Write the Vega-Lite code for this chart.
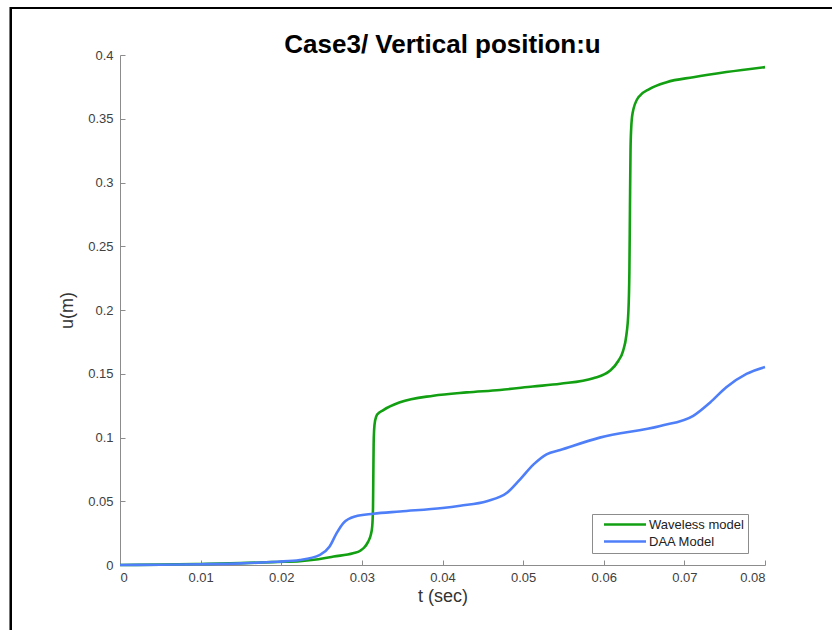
{
  "$schema": "https://vega.github.io/schema/vega-lite/v6.json",
  "width": 645,
  "height": 510,
  "autosize": {"type": "none"},
  "padding": {"left": 120, "top": 55, "right": 67, "bottom": 65},
  "background": "white",
  "title": {
    "text": "Case3/ Vertical position:u",
    "font": "Liberation Sans",
    "fontSize": 26,
    "fontWeight": "bold",
    "color": "#000000",
    "anchor": "middle",
    "frame": "group",
    "offset": 4,
    "dy": 55
  },
  "config": {
    "view": {"stroke": null},
    "font": "Liberation Sans",
    "axis": {
      "grid": false,
      "domainColor": "#8c8c8c",
      "domainWidth": 1,
      "tickColor": "#8c8c8c",
      "tickSize": -5,
      "labelColor": "#404040",
      "labelFontSize": 13,
      "labelFont": "Liberation Sans",
      "titleFont": "Liberation Sans",
      "titleFontSize": 18,
      "titleFontWeight": "normal",
      "titleColor": "#333333"
    }
  },
  "data": {
    "values": [
      {"t": 0, "u": 0, "model": "Waveless model"},
      {"t": 0.005, "u": 0.0003, "model": "Waveless model"},
      {"t": 0.01, "u": 0.0008, "model": "Waveless model"},
      {"t": 0.015, "u": 0.0015, "model": "Waveless model"},
      {"t": 0.0195, "u": 0.0024, "model": "Waveless model"},
      {"t": 0.0223, "u": 0.0030, "model": "Waveless model"},
      {"t": 0.0246, "u": 0.0045, "model": "Waveless model"},
      {"t": 0.0265, "u": 0.0066, "model": "Waveless model"},
      {"t": 0.0289, "u": 0.0092, "model": "Waveless model"},
      {"t": 0.0298, "u": 0.0112, "model": "Waveless model"},
      {"t": 0.0304, "u": 0.0145, "model": "Waveless model"},
      {"t": 0.0308, "u": 0.0185, "model": "Waveless model"},
      {"t": 0.0311, "u": 0.0235, "model": "Waveless model"},
      {"t": 0.03128, "u": 0.030, "model": "Waveless model"},
      {"t": 0.03138, "u": 0.045, "model": "Waveless model"},
      {"t": 0.03142, "u": 0.07, "model": "Waveless model"},
      {"t": 0.03146, "u": 0.095, "model": "Waveless model"},
      {"t": 0.03152, "u": 0.106, "model": "Waveless model"},
      {"t": 0.03165, "u": 0.1135, "model": "Waveless model"},
      {"t": 0.0319, "u": 0.118, "model": "Waveless model"},
      {"t": 0.03266, "u": 0.1215, "model": "Waveless model"},
      {"t": 0.03473, "u": 0.1276, "model": "Waveless model"},
      {"t": 0.03886, "u": 0.1328, "model": "Waveless model"},
      {"t": 0.043, "u": 0.1354, "model": "Waveless model"},
      {"t": 0.04713, "u": 0.1373, "model": "Waveless model"},
      {"t": 0.0512, "u": 0.1400, "model": "Waveless model"},
      {"t": 0.0546, "u": 0.1422, "model": "Waveless model"},
      {"t": 0.0587, "u": 0.1465, "model": "Waveless model"},
      {"t": 0.0608, "u": 0.1525, "model": "Waveless model"},
      {"t": 0.0618, "u": 0.160, "model": "Waveless model"},
      {"t": 0.0624, "u": 0.168, "model": "Waveless model"},
      {"t": 0.0628, "u": 0.180, "model": "Waveless model"},
      {"t": 0.06305, "u": 0.198, "model": "Waveless model"},
      {"t": 0.06318, "u": 0.23, "model": "Waveless model"},
      {"t": 0.06325, "u": 0.28, "model": "Waveless model"},
      {"t": 0.06332, "u": 0.325, "model": "Waveless model"},
      {"t": 0.0634, "u": 0.342, "model": "Waveless model"},
      {"t": 0.06358, "u": 0.3545, "model": "Waveless model"},
      {"t": 0.0643, "u": 0.3669, "model": "Waveless model"},
      {"t": 0.0657, "u": 0.3734, "model": "Waveless model"},
      {"t": 0.0678, "u": 0.3787, "model": "Waveless model"},
      {"t": 0.0711, "u": 0.3826, "model": "Waveless model"},
      {"t": 0.0752, "u": 0.3866, "model": "Waveless model"},
      {"t": 0.08, "u": 0.3905, "model": "Waveless model"},

      {"t": 0, "u": 0, "model": "DAA Model"},
      {"t": 0.005, "u": 0.0002, "model": "DAA Model"},
      {"t": 0.01, "u": 0.0006, "model": "DAA Model"},
      {"t": 0.015, "u": 0.0013, "model": "DAA Model"},
      {"t": 0.0195, "u": 0.0026, "model": "DAA Model"},
      {"t": 0.0223, "u": 0.0039, "model": "DAA Model"},
      {"t": 0.0248, "u": 0.0079, "model": "DAA Model"},
      {"t": 0.026, "u": 0.0145, "model": "DAA Model"},
      {"t": 0.02687, "u": 0.025, "model": "DAA Model"},
      {"t": 0.0277, "u": 0.0329, "model": "DAA Model"},
      {"t": 0.02915, "u": 0.0381, "model": "DAA Model"},
      {"t": 0.03142, "u": 0.0402, "model": "DAA Model"},
      {"t": 0.03473, "u": 0.0420, "model": "DAA Model"},
      {"t": 0.04, "u": 0.0447, "model": "DAA Model"},
      {"t": 0.0422, "u": 0.0465, "model": "DAA Model"},
      {"t": 0.0455, "u": 0.0500, "model": "DAA Model"},
      {"t": 0.048, "u": 0.0566, "model": "DAA Model"},
      {"t": 0.0496, "u": 0.0670, "model": "DAA Model"},
      {"t": 0.0513, "u": 0.0789, "model": "DAA Model"},
      {"t": 0.0529, "u": 0.0868, "model": "DAA Model"},
      {"t": 0.0546, "u": 0.0902, "model": "DAA Model"},
      {"t": 0.0595, "u": 0.0999, "model": "DAA Model"},
      {"t": 0.067, "u": 0.1091, "model": "DAA Model"},
      {"t": 0.0711, "u": 0.1170, "model": "DAA Model"},
      {"t": 0.0732, "u": 0.1275, "model": "DAA Model"},
      {"t": 0.0752, "u": 0.1394, "model": "DAA Model"},
      {"t": 0.0777, "u": 0.1499, "model": "DAA Model"},
      {"t": 0.08, "u": 0.1553, "model": "DAA Model"}
    ]
  },
  "layer": [
    {
      "mark": {"type": "line", "interpolate": "monotone", "strokeWidth": 2.6, "clip": false},
      "encoding": {
        "x": {
          "field": "t",
          "type": "quantitative",
          "scale": {"domain": [0, 0.08], "nice": false},
          "axis": {
            "title": "t (sec)",
            "values": [0, 0.01, 0.02, 0.03, 0.04, 0.05, 0.06, 0.07, 0.08],
            "format": "~g",
            "labelPadding": 11,
            "titlePadding": 3
          }
        },
        "y": {
          "field": "u",
          "type": "quantitative",
          "scale": {"domain": [0, 0.4], "nice": false},
          "axis": {
            "title": "u(m)",
            "values": [0, 0.05, 0.1, 0.15, 0.2, 0.25, 0.3, 0.35, 0.4],
            "format": "~g",
            "labelPadding": 12,
            "titlePadding": 11
          }
        },
        "color": {
          "field": "model",
          "type": "nominal",
          "sort": ["Waveless model", "DAA Model"],
          "scale": {"domain": ["Waveless model", "DAA Model"], "range": ["#12a012", "#4f7ff8"]},
          "legend": {
            "title": null,
            "orient": "none",
            "legendX": 472,
            "legendY": 459,
            "fillColor": "white",
            "strokeColor": "#8c8c8c",
            "padding": 4,
            "rowPadding": 3,
            "symbolType": "M0.5,0H14.5",
            "symbolSize": 36,
            "symbolStrokeWidth": 2.6,
            "labelFontSize": 13,
            "labelColor": "#222222",
            "labelOffset": 40
          }
        },
        "detail": {"field": "model"}
      }
    },
    {
      "mark": {"type": "rect", "filled": false, "stroke": "#000000", "strokeWidth": 2, "clip": false},
      "encoding": {
        "x": {"datum": -0.01352, "type": "quantitative"},
        "x2": {"datum": 0.0895},
        "y": {"datum": 0.4369, "type": "quantitative"},
        "y2": {"datum": -0.06}
      }
    }
  ]
}
